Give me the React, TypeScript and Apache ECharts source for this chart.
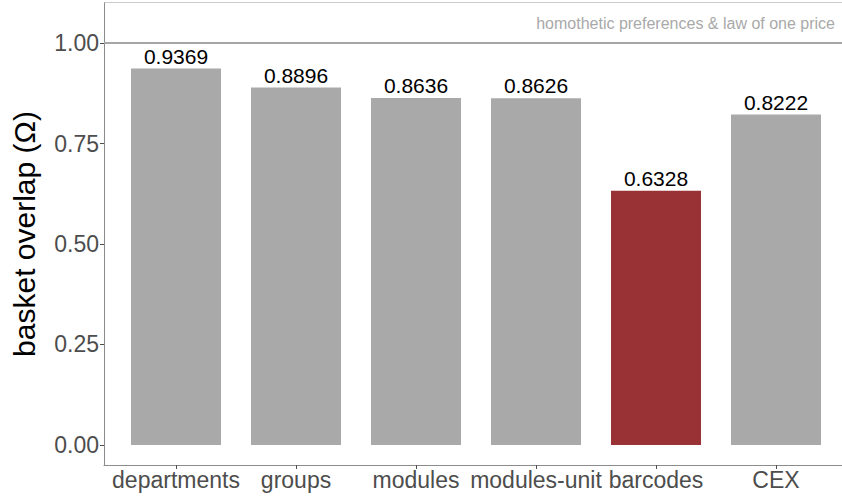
import React, { useEffect, useRef } from "react";
import * as echarts from "echarts";

const categories = ["departments", "groups", "modules", "modules-unit", "barcodes", "CEX"];
const values = [0.9369, 0.8896, 0.8636, 0.8626, 0.6328, 0.8222];
const highlight = [false, false, false, false, true, false];
const yTicks = [0, 0.25, 0.5, 0.75, 1.0];
const refValue = 1.0;
const refLabel = "homothetic preferences & law of one price";
const xPositions = [1, 2, 3, 4, 5, 6];

const FONT = "'Liberation Sans', Arial, sans-serif";

export default function App() {
  const ref = useRef<HTMLDivElement>(null);
  useEffect(() => {
    document.body.style.margin = "0";
    const chart = echarts.init(ref.current!, null, { renderer: "svg" });
    chart.setOption({
      animation: false,
      backgroundColor: "#ffffff",
      textStyle: { fontFamily: FONT },
      grid: { left: 104, top: 3, right: 0, bottom: 32, containLabel: false },
      xAxis: {
        type: "value",
        min: 0.4,
        max: 6.55,
        axisLine: { show: true, onZero: false, lineStyle: { color: "#8c8c8c", width: 1 } },
        axisTick: {
          show: true,
          customValues: xPositions,
          length: 4,
          lineStyle: { color: "#4d4d4d", width: 1 },
        },
        axisLabel: {
          customValues: xPositions,
          formatter: (v: number) => categories[Math.round(v) - 1] ?? "",
          color: "#4d4d4d",
          fontSize: 23,
          fontFamily: FONT,
          margin: 3,
        },
        splitLine: { show: false },
      },
      yAxis: {
        type: "value",
        min: -0.05,
        max: 1.1,
        name: "basket overlap (Ω)",
        nameLocation: "middle",
        nameGap: 65,
        nameTextStyle: { color: "#000000", fontSize: 30, fontFamily: FONT },
        axisLine: { show: true, onZero: false, lineStyle: { color: "#8c8c8c", width: 1 } },
        axisTick: {
          show: true,
          customValues: yTicks,
          length: 4,
          lineStyle: { color: "#4d4d4d", width: 1 },
        },
        axisLabel: {
          customValues: yTicks,
          formatter: (v: number) => v.toFixed(2),
          color: "#4d4d4d",
          fontSize: 23,
          fontFamily: FONT,
          margin: 5,
        },
        splitLine: { show: false },
      },
      graphic: [
        {
          type: "line",
          shape: { x1: 104, y1: 2.5, x2: 842, y2: 2.5 },
          style: { stroke: "#cccccc", lineWidth: 1 },
          silent: true,
        },
        {
          type: "text",
          right: 7,
          top: 15,
          style: {
            text: refLabel,
            fill: "#a9a9a9",
            fontSize: 16,
            fontFamily: FONT,
          },
          silent: true,
        },
      ],
      series: [
        {
          type: "bar",
          barWidth: 90,
          data: values.map((v, i) => ({
            value: [xPositions[i], v],
            itemStyle: { color: highlight[i] ? "#983234" : "#a9a9a9" },
          })),
          label: {
            show: true,
            position: "top",
            distance: 2,
            color: "#000000",
            fontSize: 21,
            fontFamily: FONT,
            formatter: (p: any) => p.value[1].toFixed(4),
          },
          markLine: {
            silent: true,
            symbol: "none",
            label: { show: false },
            lineStyle: { color: "#a6a6a6", width: 2, type: "solid" },
            data: [{ yAxis: refValue }],
          },
        },
      ],
    });
    return () => chart.dispose();
  }, []);
  return <div ref={ref} style={{ width: 842, height: 497 }} />;
}
